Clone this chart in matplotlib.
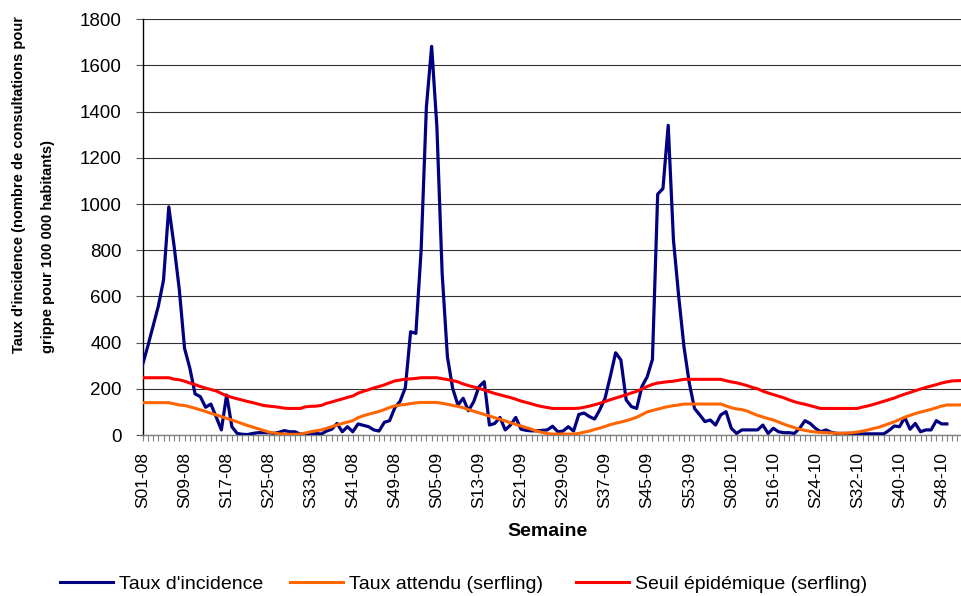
import matplotlib
matplotlib.use("Agg")
import matplotlib.pyplot as plt
from matplotlib.lines import Line2D

plt.rcParams['font.family'] = ['Liberation Sans', 'DejaVu Sans']

# Categories: weekly (S01-08 ... S52-10)
years = ["08", "09", "10"]
weeks_per_year = [52, 53, 52]
weeks = [f"S{w:02d}-{y}" for y, n in zip(years, weeks_per_year) for w in range(1, n + 1)]

# Taux d'incidence (S01-08 ... S50-10)
incidence = [
    303, 384, 470, 557, 671, 988, 820, 630, 375, 290,
    178, 166, 120, 134, 79, 22, 173, 36, 7, 3,
    2, 7, 10, 10, 10, 7, 12, 19, 14, 14,
    4, 3, 7, 7, 4, 17, 25, 50, 14, 36,
    14, 48, 42, 36, 22, 17, 55, 62, 118, 146,
    205, 447, 440, 800, 1420, 1683, 1334, 700, 339, 202,
    130, 159, 105, 144, 209, 231, 43, 50, 76, 22,
    43, 76, 25, 20, 18, 18, 20, 22, 38, 14,
    17, 36, 17, 89, 95, 80, 69, 110, 160, 255,
    356, 325, 152, 123, 115, 210, 252, 327, 1043, 1067,
    1341, 844, 599, 382, 226, 115, 87, 58, 65, 43,
    87, 101, 29, 7, 22, 22, 22, 22, 43, 7,
    29, 14, 10, 10, 7, 29, 62, 50, 29, 14,
    22, 12, 7, 7, 7, 7, 7, 5, 5, 5,
    5, 5, 20, 39, 36, 76, 25, 50, 14, 22,
    22, 62, 48, 48,
]

# Taux attendu (serfling)
attendu = [
    140, 140, 140, 140, 140, 140, 135, 130, 128, 122,
    116, 109, 102, 94, 87, 80, 72, 65, 57, 49,
    41, 34, 27, 20, 13, 9, 5, 4, 3, 3,
    4, 9, 14, 18, 22, 29, 36, 43, 50, 56,
    62, 75, 83, 90, 96, 102, 110, 119, 126, 130,
    132, 136, 139, 141, 141, 141, 141, 137, 133, 128,
    124, 118, 110, 103, 96, 89, 82, 75, 68, 61,
    53, 46, 39, 32, 25, 17, 11, 6, 4, 4,
    4, 4, 4, 7, 12, 17, 24, 30, 37, 45,
    51, 56, 62, 69, 77, 88, 100, 106, 112, 118,
    123, 127, 130, 134, 134, 134, 134, 134, 134, 134,
    134, 126, 118, 113, 110, 104, 94, 85, 78, 71,
    65, 56, 47, 39, 32, 25, 20, 16, 13, 11,
    10, 9, 8, 7, 8, 10, 13, 17, 22, 28,
    33, 41, 49, 57, 67, 77, 85, 93, 99, 105,
    111, 118, 125, 130, 130, 130, 131,
]

# Seuil épidémique (serfling)
seuil = [
    248, 248, 248, 248, 248, 248, 242, 239, 233, 225,
    218, 210, 203, 197, 191, 180, 170, 163, 157, 151,
    145, 140, 134, 128, 125, 123, 120, 116, 115, 115,
    115, 122, 124, 125, 128, 137, 143, 150, 156, 163,
    169, 181, 189, 196, 204, 210, 217, 226, 234, 238,
    242, 243, 245, 248, 248, 248, 248, 244, 240, 236,
    230, 221, 214, 208, 202, 195, 187, 180, 174, 168,
    162, 155, 147, 141, 135, 128, 123, 119, 115, 115,
    115, 115, 115, 116, 120, 125, 131, 137, 145, 153,
    160, 167, 174, 182, 189, 199, 210, 219, 225, 228,
    231, 233, 237, 241, 241, 241, 241, 241, 241, 241,
    241, 235, 230, 226, 220, 214, 206, 200, 190, 182,
    175, 168, 161, 152, 144, 138, 133, 127, 121, 115,
    115, 115, 115, 115, 115, 115, 115, 121, 126, 132,
    139, 146, 153, 160, 169, 177, 184, 192, 199, 206,
    212, 218, 225, 230, 234, 235, 236,
]

series_labels = ["Taux d'incidence", "Taux attendu (serfling)", "Seuil épidémique (serfling)"]
colors = ["#000080", "#FF6600", "#FF0000"]

y_ticks = list(range(0, 1801, 200))
label_step = 8

W, H = 961, 596
fig = plt.figure(figsize=(W / 100, H / 100), dpi=100)
x0, x_end = 142.5, 962.6
y_bottom, y_top = 435, 19.3
ax = fig.add_axes([x0 / W, (H - y_bottom) / H, (x_end - x0) / W, (y_bottom - y_top) / H])

ax.plot(range(len(incidence)), incidence, color=colors[0], lw=2.3, zorder=3)
ax.plot(range(len(attendu)), attendu, color=colors[1], lw=2.2, zorder=4)
ax.plot(range(len(seuil)), seuil, color=colors[2], lw=2.2, zorder=5)

ax.set_xlim(0, len(weeks) - 1)
ax.set_ylim(0, 1800)
ax.set_yticks(y_ticks)
ax.set_yticklabels([str(v) for v in y_ticks])
ax.set_xticks(range(len(weeks)))
ax.set_xticklabels([w if i % label_step == 0 else "" for i, w in enumerate(weeks)])

ax.set_axisbelow(True)
ax.yaxis.grid(True, color='#333333', lw=0.8)
ax.spines['top'].set_visible(False)
ax.spines['right'].set_visible(False)
ax.spines['left'].set_color('black')
ax.spines['left'].set_linewidth(1.0)
ax.spines['bottom'].set_color('#808080')
ax.spines['bottom'].set_linewidth(1.0)

ax.tick_params(axis='y', direction='out', length=5, width=0.8, color='#555555',
               pad=10, labelsize=13.5)
ax.tick_params(axis='x', direction='out', length=4, width=0.8, color='#808080',
               pad=8, labelsize=12.5, labelrotation=90)

fig.text(19.5 / W, (H - 353) / H, "Taux d'incidence (nombre de consultations pour",
         rotation=90, ha='center', va='bottom', fontsize=10.5, fontweight='bold')
fig.text(48.5 / W, (H - 353) / H, "grippe pour 100 000 habitants)",
         rotation=90, ha='center', va='bottom', fontsize=10.5, fontweight='bold')
fig.text(548 / W, (H - 531) / H, "Semaine", ha='center', va='center',
         fontsize=14, fontweight='bold')

legend_x = [60, 290, 576]
for c, lab, lx in zip(colors, series_labels, legend_x):
    h = Line2D([], [], color=c, lw=2.2)
    fig.legend([h], [lab], loc='center left', bbox_to_anchor=(lx / W, (H - 584) / H),
               frameon=False, fontsize=14, handlelength=2.75, handletextpad=0.3,
               borderpad=0, borderaxespad=0)

fig.savefig("out.png", dpi=100)
